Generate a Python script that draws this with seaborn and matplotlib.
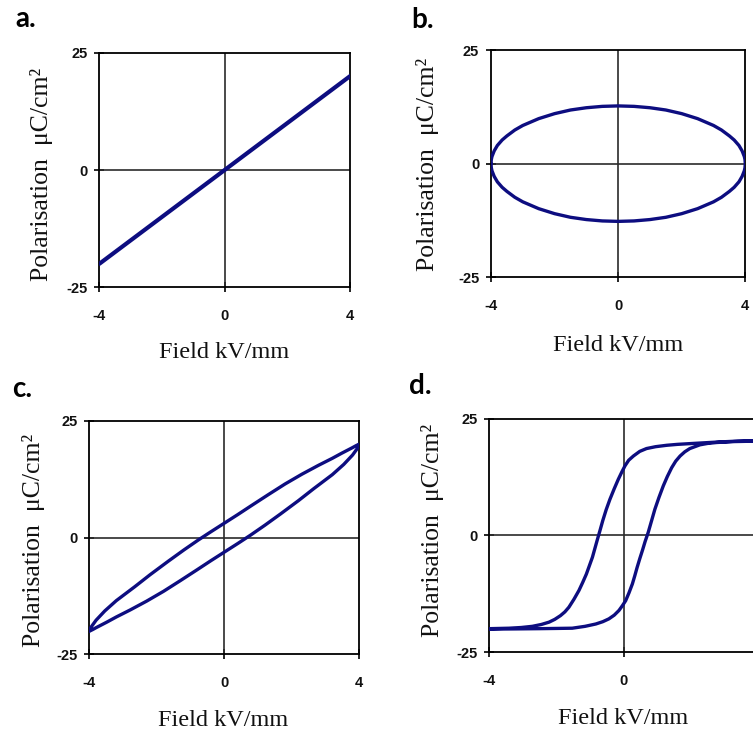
import matplotlib
matplotlib.use("Agg")
import matplotlib.pyplot as plt
import seaborn as sns
import pandas as pd

# ---------------- data ----------------
x_ticks = [-4, 0, 4]
y_ticks = [-25, 0, 25]
x_label = "Field kV/mm"
y_label = "Polarisation  \u03bcC/cm\u00b2"
panel_letters = ["a.", "b.", "c.", "d."]

# a. linear dielectric
field_a = [-4, 0, 4]
pol_a = [-20, 0, 20]

# b. ideal resistor (ellipse): upper half then lower half
field_b_up = [-4, -3.99, -3.97, -3.9, -3.8, -3.65, -3.5, -3.25, -3, -2.5, -2, -1.5, -1, -0.5, 0,
              0.5, 1, 1.5, 2, 2.5, 3, 3.25, 3.5, 3.65, 3.8, 3.9, 3.97, 3.99, 4]
pol_b_up = [0, 0.9, 1.55, 2.8, 4.0, 5.2, 6.1, 7.4, 8.4, 9.9, 11.0, 11.8, 12.3, 12.6, 12.7,
            12.6, 12.3, 11.8, 11.0, 9.9, 8.4, 7.4, 6.1, 5.2, 4.0, 2.8, 1.55, 0.9, 0]
field_b_dn = [4, 3.99, 3.97, 3.9, 3.8, 3.65, 3.5, 3.25, 3, 2.5, 2, 1.5, 1, 0.5, 0,
              -0.5, -1, -1.5, -2, -2.5, -3, -3.25, -3.5, -3.65, -3.8, -3.9, -3.97, -3.99, -4]
pol_b_dn = [0, -0.9, -1.55, -2.8, -4.0, -5.2, -6.1, -7.4, -8.4, -9.9, -11.0, -11.8, -12.3, -12.6, -12.7,
            -12.6, -12.3, -11.8, -11.0, -9.9, -8.4, -7.4, -6.1, -5.2, -4.0, -2.8, -1.55, -0.9, 0]

# c. lossy capacitor: rising branch then falling branch
field_c_up = [-4, -3.97, -3.9, -3.8, -3.54, -3.2, -2.65, -2.2, -1.66, -1.2, -0.77, -0.4, 0,
              0.4, 0.81, 1.3, 1.8, 2.3, 2.79, 3.2, 3.48, 3.8, 3.9, 3.97, 4]
pol_c_up = [-20, -19.4, -18.7, -17.7, -15.7, -13.5, -10.5, -7.95, -5.05, -2.65, -0.5, 1.25, 3.1,
            4.95, 6.9, 9.2, 11.5, 13.6, 15.5, 17.0, 18.1, 19.3, 19.7, 19.95, 20]
field_c_dn = [4, 3.97, 3.9, 3.8, 3.54, 3.2, 2.65, 2.2, 1.66, 1.2, 0.77, 0.4, 0,
              -0.4, -0.81, -1.3, -1.8, -2.3, -2.79, -3.2, -3.48, -3.8, -3.9, -3.97, -4]
pol_c_dn = [20, 19.4, 18.7, 17.7, 15.7, 13.5, 10.5, 7.95, 5.05, 2.65, 0.5, -1.25, -3.1,
            -4.95, -6.9, -9.2, -11.5, -13.6, -15.5, -17.0, -18.1, -19.3, -19.7, -19.95, -20]

# d. ferroelectric hysteresis: descending branch then ascending branch
field_d_dn = [4.0, 3.4, 2.8, 2.07, 1.6, 1.28, 0.95, 0.68, 0.48, 0.29, 0.15, 0.04, -0.06,
              -0.16, -0.28, -0.41, -0.52, -0.62, -0.71, -0.79, -0.86, -0.93, -1.02,
              -1.11, -1.22, -1.33, -1.48, -1.63, -1.75, -1.88, -2.05, -2.22, -2.45,
              -2.72, -3.05, -3.41, -4.0]
pol_d_dn = [20.3, 20.2, 20.0, 19.7, 19.5, 19.3, 19.0, 18.6, 18.0, 17.0, 16.1, 14.9, 13.5,
            12.0, 10.0, 7.7, 5.5, 3.2, 0.9, -1.1, -2.9, -4.7, -6.5,
            -8.3, -10.1, -11.8, -13.7, -15.4, -16.4, -17.2, -18.0, -18.6, -19.1,
            -19.5, -19.75, -19.9, -20.0]
field_d_up = [-4.0, -3.2, -2.52, -2.0, -1.53, -1.15, -0.83, -0.62, -0.44, -0.28, -0.14,
              -0.04, 0.06, 0.16, 0.26, 0.33, 0.40, 0.48, 0.56, 0.64, 0.73, 0.83, 0.93,
              1.05, 1.18, 1.30, 1.43, 1.55, 1.68, 1.82, 1.97, 2.12, 2.27, 2.5, 2.77,
              3.3, 4.0]
pol_d_up = [-20.1, -20.05, -20.0, -19.95, -19.9, -19.5, -19.0, -18.5, -17.9, -17.1, -16.1,
            -15.1, -14.0, -12.3, -10.4, -8.7, -6.9, -5.0, -3.2, -1.3, 0.6, 3.1, 5.6,
            8.1, 10.6, 12.6, 14.5, 15.9, 17.0, 17.9, 18.6, 19.0, 19.4, 19.7, 19.9,
            20.1, 20.2]

# ---------------- style ----------------
sns.set_theme(style="white")
plt.rcParams["font.family"] = ["Liberation Serif", "DejaVu Serif"]

W, H = 753, 734
fig = plt.figure(figsize=(W / 100, H / 100), dpi=100)
fig.patch.set_facecolor("white")

LINE_COLOR = "#0d0d80"

panels = [
    # (field, pol, box(l, r, t, b) px, ylabel center px, xlabel center px, letter pos px, lw)
    (field_a, pol_a, (99.3, 350.0, 52.7, 287.3), (41.7, 174), (224.5, 352), (15, 27), 3.0),
    (field_b_up + field_b_dn, pol_b_up + pol_b_dn, (491.0, 745.3, 50.0, 277.3), (427.5, 164), (618.5, 346), (411, 28), 2.4),
    (field_c_up + field_c_dn, pol_c_up + pol_c_dn, (89.3, 359.3, 421.0, 654.3), (33.5, 540), (223.5, 720), (12, 397), 2.4),
    (field_d_dn + field_d_up, pol_d_dn + pol_d_up, (489.3, 758.0, 418.7, 652.0), (432.3, 530), (623.0, 718), (409, 394), 2.4),
]

for i, (fx, py, box, ylc, xlc, lp, lw) in enumerate(panels):
    l, r, t, b = box
    ax = fig.add_axes([l / W, 1 - b / H, (r - l) / W, (b - t) / H])
    ax.set_facecolor("white")
    df = pd.DataFrame({"field": fx, "pol": py})
    ax.axhline(0, color="#2b2b2b", lw=1.2, zorder=1)
    ax.axvline(0, color="#2b2b2b", lw=1.2, zorder=1)
    sns.lineplot(data=df, x="field", y="pol", sort=False, estimator=None,
                 color=LINE_COLOR, lw=lw, ax=ax, legend=False, zorder=3,
                 solid_joinstyle="round", solid_capstyle="round")
    ax.set_xlim(-4, 4)
    ax.set_ylim(-25, 25)
    ax.set_xticks(x_ticks)
    ax.set_yticks(y_ticks)
    ax.set_xticklabels([str(v) for v in x_ticks])
    ax.set_yticklabels([str(v) for v in y_ticks])
    for lab in ax.get_xticklabels() + ax.get_yticklabels():
        lab.set_fontfamily("Liberation Sans")
        lab.set_fontweight("bold")
        lab.set_fontsize(10.5)
        lab.set_color("#111111")
    ax.tick_params(axis="both", direction="inout", length=7, width=1.2,
                   color="black", bottom=True, left=True)
    ax.tick_params(axis="x", pad=12.0)
    ax.tick_params(axis="y", pad=5.0)
    for s in ax.spines.values():
        s.set_visible(True)
        s.set_color("black")
        s.set_linewidth(1.3)

    ax.set_xlabel(x_label, fontsize=17.5, color="#111111")
    ax.set_ylabel(y_label, fontsize=18.5, color="#111111")
    ax.xaxis.label.set_va("center")
    ax.yaxis.label.set_va("center")
    ax.xaxis.set_label_coords((xlc[0] - l) / (r - l), (b - xlc[1]) / (b - t))
    ax.yaxis.set_label_coords((ylc[0] - l) / (r - l), (b - ylc[1]) / (b - t))

    fig.text(lp[0] / W, 1 - lp[1] / H, panel_letters[i], fontsize=20,
             fontweight="bold", family=["Lato", "DejaVu Sans"],
             ha="left", va="baseline", color="black")

fig.savefig("out.png", dpi=100, facecolor="white")
